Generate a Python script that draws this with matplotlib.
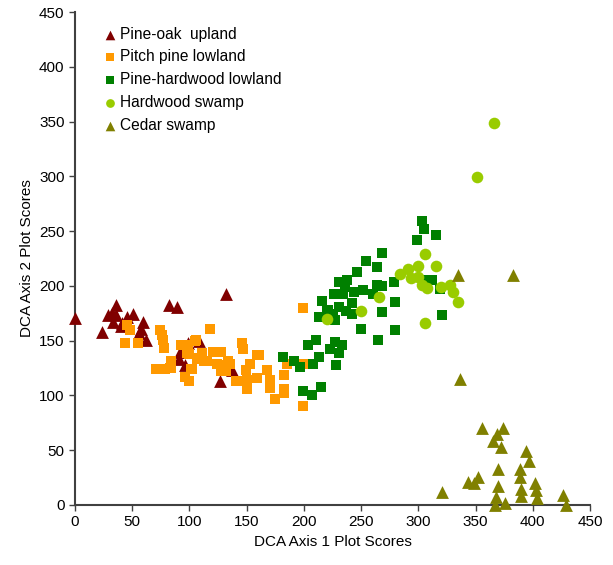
import matplotlib
matplotlib.use("Agg")
import matplotlib.pyplot as plt

plt.rcParams['font.family'] = ['Liberation Sans', 'DejaVu Sans']

# Pine-oak upland
po_x = [0, 24, 36, 29, 36, 33, 45, 51, 59, 58, 62, 56, 41, 32, 82, 89, 132, 108, 92, 91, 96, 127, 137, 99, 40]
po_y = [171, 158, 183, 173, 173, 167, 172, 174, 167, 161, 151, 157, 166, 175, 183, 181, 193, 150, 140, 133, 128, 113, 123, 148, 163]

# Pitch pine lowland
pp_x = [45, 48, 44, 55, 74, 76, 77, 78, 71, 79, 84, 84, 93, 99, 105, 98, 101, 96, 100, 111, 107, 113, 118, 121,
        128, 124, 131, 135, 128, 132, 141, 146, 147, 159, 161, 134, 149, 153, 142, 150, 150, 159, 168, 170, 170,
        175, 183, 183, 183, 199, 199, 185, 199, 102, 100, 106, 115, 108, 83]
pp_y = [164, 160, 148, 148, 160, 155, 151, 143, 124, 124, 131, 125, 146, 146, 150, 139, 124, 117, 113, 139, 133, 131, 161, 140,
        140, 129, 128, 129, 122, 122, 113, 148, 142, 137, 137, 131, 123, 129, 113, 114, 106, 116, 123, 114, 107,
        97, 119, 106, 102, 90, 180, 129, 129, 124, 138, 151, 131, 134, 125]

# Pine-hardwood lowland
ph_x = [268, 254, 264, 246, 231, 238, 236, 226, 234, 244, 252, 264, 268, 260, 279, 216, 242, 231, 221, 237, 242, 225,
        213, 227, 280, 268, 250, 280, 265, 211, 204, 227, 233, 223, 231, 213, 182, 191, 197, 208, 228, 199, 207, 215,
        303, 305, 315, 299, 312, 307, 319, 321, 220]
ph_y = [230, 223, 217, 213, 204, 205, 199, 193, 193, 194, 196, 201, 200, 193, 204, 186, 184, 181, 178, 177, 174, 174,
        172, 169, 185, 176, 161, 160, 151, 151, 146, 149, 146, 142, 139, 135, 135, 131, 126, 129, 128, 104, 100, 108,
        259, 252, 246, 242, 205, 205, 197, 173, 178]

# Hardwood swamp
hs_x = [366, 351, 306, 300, 315, 291, 284, 294, 300, 303, 308, 320, 328, 330, 335, 266, 250, 306, 220]
hs_y = [349, 299, 229, 218, 218, 215, 211, 207, 208, 201, 198, 199, 201, 194, 185, 190, 177, 166, 170]

# Cedar swamp
cs_x = [335, 383, 336, 356, 374, 369, 365, 372, 394, 397, 389, 370, 389, 402, 352, 343, 349, 370, 390, 403, 321,
        368, 390, 404, 426, 376, 367, 429]
cs_y = [210, 210, 115, 70, 70, 65, 58, 53, 49, 40, 33, 33, 26, 20, 26, 21, 20, 17, 15, 14, 12,
        7, 8, 6, 9, 2, 0, 0]

fig = plt.figure(figsize=(6.13, 5.65), dpi=100)
ax = fig.add_axes([75/613, 60/565, 515/613, 493/565])

ax.scatter(po_x, po_y, marker='^', s=85, color='#800000', label='Pine-oak  upland', linewidths=0, clip_on=False, zorder=3)
ax.scatter(pp_x, pp_y, marker='s', s=50, color='#FF9900', label='Pitch pine lowland', linewidths=0, clip_on=False, zorder=3)
ax.scatter(ph_x, ph_y, marker='s', s=50, color='#008000', label='Pine-hardwood lowland', linewidths=0, clip_on=False, zorder=3)
ax.scatter(hs_x, hs_y, marker='o', s=70, color='#99CC00', label='Hardwood swamp', linewidths=0, clip_on=False, zorder=3)
ax.scatter(cs_x, cs_y, marker='^', s=85, color='#808000', label='Cedar swamp', linewidths=0, clip_on=False, zorder=3)

ax.set_xlim(0, 450)
ax.set_ylim(0, 450)
ax.set_xticks(range(0, 451, 50))
ax.set_yticks(range(0, 451, 50))
for s in ['top', 'right']:
    ax.spines[s].set_visible(False)
for s in ['left', 'bottom']:
    ax.spines[s].set_color('#404040')
    ax.spines[s].set_linewidth(1.5)
ax.tick_params(direction='out', length=4, width=1, colors='#404040', labelcolor='black', labelsize=11)
ax.set_xlabel('DCA Axis 1 Plot Scores', fontsize=11)
ax.set_ylabel('DCA Axis 2 Plot Scores', fontsize=11)

leg = ax.legend(loc='upper left', bbox_to_anchor=(0.04, 0.983), frameon=False, fontsize=11.2,
                handlelength=1.0, handletextpad=0.15, labelspacing=0.5, markerscale=0.75, borderaxespad=0)

fig.savefig('out.png', dpi=100)
